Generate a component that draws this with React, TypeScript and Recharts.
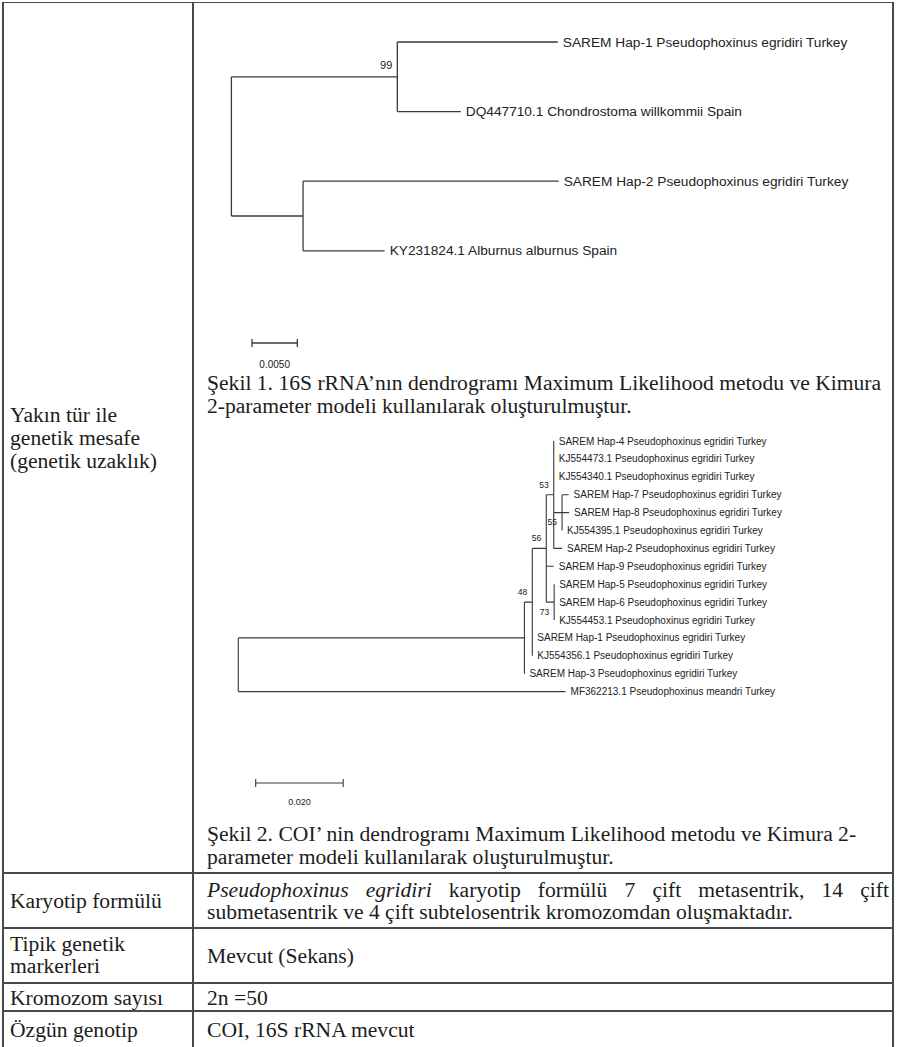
import React from "react";
import { ComposedChart, Line, Scatter, XAxis, YAxis } from "recharts";

// Şekil 1 - 16S rRNA dendrogram (top-to-bottom taxon order)
const taxa16S = [
  "SAREM Hap-1 Pseudophoxinus egridiri Turkey",
  "DQ447710.1 Chondrostoma willkommii Spain",
  "SAREM Hap-2 Pseudophoxinus egridiri Turkey",
  "KY231824.1 Alburnus alburnus Spain",
];
// [child, parent, branch length]; leaves are "t" + taxon index
const branches16S: [string, string, number][] = [
  ["n1", "root", 0.0183],
  ["t0", "n1", 0.0177],
  ["t1", "n1", 0.007],
  ["n2", "root", 0.0079],
  ["t2", "n2", 0.0282],
  ["t3", "n2", 0.009],
];
const bootstrap16S: Record<string, number> = { n1: 99 };
const scale16S = 0.005;
const scaleLabel16S = "0.0050";

// Şekil 2 - COI dendrogram
const taxaCOI = [
  "SAREM Hap-4 Pseudophoxinus egridiri Turkey",
  "KJ554473.1 Pseudophoxinus egridiri Turkey",
  "KJ554340.1 Pseudophoxinus egridiri Turkey",
  "SAREM Hap-7 Pseudophoxinus egridiri Turkey",
  "SAREM Hap-8 Pseudophoxinus egridiri Turkey",
  "KJ554395.1 Pseudophoxinus egridiri Turkey",
  "SAREM Hap-2 Pseudophoxinus egridiri Turkey",
  "SAREM Hap-9 Pseudophoxinus egridiri Turkey",
  "SAREM Hap-5 Pseudophoxinus egridiri Turkey",
  "SAREM Hap-6 Pseudophoxinus egridiri Turkey",
  "KJ554453.1 Pseudophoxinus egridiri Turkey",
  "SAREM Hap-1 Pseudophoxinus egridiri Turkey",
  "KJ554356.1 Pseudophoxinus egridiri Turkey",
  "SAREM Hap-3 Pseudophoxinus egridiri Turkey",
  "MF362213.1 Pseudophoxinus meandri Turkey",
];
const branchesCOI: [string, string, number][] = [
  ["A", "root", 0.0654],
  ["C", "A", 0.0018],
  ["G", "C", 0.0032],
  ["E", "G", 0.0017],
  ["t0", "E", 0],
  ["t1", "E", 0],
  ["t2", "E", 0],
  ["F", "E", 0.0019],
  ["t3", "F", 0.0015],
  ["t4", "F", 0.0016],
  ["t5", "F", 0],
  ["t6", "E", 0.0019],
  ["t7", "G", 0.0017],
  ["H", "G", 0.0018],
  ["t8", "H", 0],
  ["t9", "H", 0],
  ["t10", "H", 0],
  ["t11", "C", 0],
  ["t12", "C", 0],
  ["t13", "A", 0],
  ["t14", "root", 0.0748],
];
const bootstrapCOI: Record<string, number> = { E: 53, F: 55, G: 56, H: 73, C: 48 };
const bootBelowCOI = ["F", "H"];
const scaleCOI = 0.02;
const scaleLabelCOI = "0.020";

const INK = "#222";
const LINE = "#3a3a3a";
const SERIF = "'Liberation Serif', 'Times New Roman', serif";
const SANS = "'Liberation Sans', Arial, sans-serif";

type Pt = { x: number; y: number | null };

function layoutTree(branches: [string, string, number][]) {
  const kids: Record<string, { id: string; len: number }[]> = {};
  branches.forEach(([c, p, l]) => {
    (kids[p] = kids[p] || []).push({ id: c, len: l });
  });
  const pos: Record<string, { x: number; y: number }> = {};
  const walk = (id: string, x: number) => {
    const k = kids[id];
    if (!k) {
      pos[id] = { x, y: Number(id.slice(1)) };
      return;
    }
    k.forEach((c) => walk(c.id, x + c.len));
    pos[id] = { x, y: (pos[k[0].id].y + pos[k[k.length - 1].id].y) / 2 };
  };
  walk("root", 0);

  const lines: Pt[] = [];
  const seg = (a: Pt, b: Pt) => lines.push(a, b, { x: b.x, y: null });
  branches.forEach(([c, p]) => seg({ x: pos[p].x, y: pos[c].y }, { x: pos[c].x, y: pos[c].y }));
  Object.keys(kids).forEach((id) => {
    const k = kids[id];
    seg({ x: pos[id].x, y: pos[k[0].id].y }, { x: pos[id].x, y: pos[k[k.length - 1].id].y });
  });
  return { pos, lines };
}

type TreeProps = {
  taxa: string[];
  branches: [string, string, number][];
  bootstrap: Record<string, number>;
  below?: string[];
  scaleLen: number;
  scaleLabel: string;
  left: number;
  top: number;
  width: number;
  height: number;
  rootX: number;
  pxPerUnit: number;
  row0: number;
  rowPx: number;
  barX: number;
  barY: number;
  barLabelDy: number;
  bootAbove: number;
  bootBelow: number;
  leafFont: number;
  bootFont: number;
  scaleFont: number;
  stroke: number;
};

function Dendrogram(p: TreeProps) {
  const { pos, lines } = layoutTree(p.branches);
  const xMin = (p.left - p.rootX) / p.pxPerUnit;
  const xMax = (p.left + p.width - p.rootX) / p.pxPerUnit;
  const yMin = (p.top - p.row0) / p.rowPx;
  const yMax = (p.top + p.height - p.row0) / p.rowPx;

  const leaves = p.taxa.map((name, i) => ({ x: pos["t" + i].x, y: pos["t" + i].y, name }));
  const boots = Object.keys(p.bootstrap).map((id) => ({
    x: pos[id].x,
    y: pos[id].y,
    value: p.bootstrap[id],
    below: (p.below || []).includes(id),
  }));

  const bx = (p.barX - p.rootX) / p.pxPerUnit;
  const by = (p.barY - p.row0) / p.rowPx;
  const tick = 4 / p.rowPx;
  const bar: Pt[] = [
    { x: bx, y: by },
    { x: bx + p.scaleLen, y: by },
    { x: bx + p.scaleLen, y: null },
    { x: bx, y: by - tick },
    { x: bx, y: by + tick },
    { x: bx, y: null },
    { x: bx + p.scaleLen, y: by - tick },
    { x: bx + p.scaleLen, y: by + tick },
  ];
  const barMid = [{ x: bx + p.scaleLen / 2, y: by }];

  return (
    <div style={{ position: "absolute", left: p.left, top: p.top }}>
      <ComposedChart width={p.width} height={p.height} margin={{ top: 0, right: 0, bottom: 0, left: 0 }}>
        <XAxis type="number" dataKey="x" domain={[xMin, xMax]} hide allowDataOverflow />
        <YAxis type="number" dataKey="y" domain={[yMin, yMax]} reversed hide allowDataOverflow />
        <Line
          data={lines}
          dataKey="y"
          stroke={LINE}
          strokeWidth={p.stroke}
          dot={false}
          activeDot={false}
          connectNulls={false}
          isAnimationActive={false}
        />
        <Line
          data={bar}
          dataKey="y"
          stroke={LINE}
          strokeWidth={p.stroke}
          dot={false}
          activeDot={false}
          connectNulls={false}
          isAnimationActive={false}
        />
        <Scatter
          data={leaves}
          isAnimationActive={false}
          shape={(s: any) => (
            <text x={s.cx + 5} y={s.cy} dominantBaseline="central" fontSize={p.leafFont} fontFamily={SANS} fill={INK}>
              {s.payload.name}
            </text>
          )}
        />
        <Scatter
          data={boots}
          isAnimationActive={false}
          shape={(s: any) => (
            <text
              x={s.cx - 5}
              y={s.payload.below ? s.cy + p.bootBelow : s.cy - p.bootAbove}
              textAnchor="end"
              dominantBaseline="central"
              fontSize={p.bootFont}
              fontFamily={SANS}
              fill={INK}
            >
              {s.payload.value}
            </text>
          )}
        />
        <Scatter
          data={barMid}
          isAnimationActive={false}
          shape={(s: any) => (
            <text
              x={s.cx}
              y={s.cy + p.barLabelDy}
              textAnchor="middle"
              dominantBaseline="central"
              fontSize={p.scaleFont}
              fontFamily={SANS}
              fill={INK}
            >
              {p.scaleLabel}
            </text>
          )}
        />
      </ComposedChart>
    </div>
  );
}

function Txt({ x, y, children, size = 21.6, italic = false, width }: any) {
  const lh = 24;
  return (
    <div
      style={{
        position: "absolute",
        left: x,
        top: y - lh / 2,
        lineHeight: lh + "px",
        fontSize: size,
        fontFamily: SERIF,
        color: "#1c1c1c",
        whiteSpace: "nowrap",
        fontStyle: italic ? "italic" : "normal",
        width,
        textAlign: width ? "justify" : "left",
        textAlignLast: width ? "justify" : "auto",
      }}
    >
      {children}
    </div>
  );
}

function HLine({ y }: { y: number }) {
  return <div style={{ position: "absolute", left: 3, top: y - 0.75, width: 891, height: 1.5, background: "#4a4a4a" }} />;
}
function VLine({ x }: { x: number }) {
  return <div style={{ position: "absolute", left: x - 0.75, top: 2, width: 1.5, height: 1046, background: "#4a4a4a" }} />;
}

export default function App() {
  const RX = 207;
  return (
    <div style={{ position: "absolute", left: 0, top: 0, width: 903, height: 1047, background: "#fff", overflow: "hidden" }}>
      <HLine y={2.5} />
      <HLine y={873} />
      <HLine y={928} />
      <HLine y={983} />
      <HLine y={1011} />
      <VLine x={3} />
      <VLine x={193} />
      <VLine x={893} />

      <Dendrogram
        taxa={taxa16S}
        branches={branches16S}
        bootstrap={bootstrap16S}
        scaleLen={scale16S}
        scaleLabel={scaleLabel16S}
        left={194}
        top={4}
        width={698}
        height={370}
        rootX={231.4}
        pxPerUnit={9067}
        row0={42}
        rowPx={69.6}
        barX={252}
        barY={343}
        barLabelDy={21}
        bootAbove={12}
        bootBelow={12}
        leafFont={13.7}
        bootFont={11}
        scaleFont={10}
        stroke={1.3}
      />
      <Dendrogram
        taxa={taxaCOI}
        branches={branchesCOI}
        bootstrap={bootstrapCOI}
        below={bootBelowCOI}
        scaleLen={scaleCOI}
        scaleLabel={scaleLabelCOI}
        left={194}
        top={420}
        width={698}
        height={405}
        rootX={238.3}
        pxPerUnit={4375}
        row0={441}
        rowPx={17.9}
        barX={255.7}
        barY={783}
        barLabelDy={19}
        bootAbove={10}
        bootBelow={9.5}
        leafFont={10}
        bootFont={8.5}
        scaleFont={9}
        stroke={1.1}
      />

      <Txt x={RX} y={383}>Şekil 1. 16S rRNA’nın dendrogramı Maximum Likelihood metodu ve Kimura</Txt>
      <Txt x={RX} y={406}>2-parameter modeli kullanılarak oluşturulmuştur.</Txt>

      <Txt x={10} y={415}>Yakın tür ile</Txt>
      <Txt x={10} y={438}>genetik mesafe</Txt>
      <Txt x={10} y={461}>(genetik uzaklık)</Txt>

      <Txt x={RX} y={834}>Şekil 2. COI’ nin dendrogramı Maximum Likelihood metodu ve Kimura 2-</Txt>
      <Txt x={RX} y={857}>parameter modeli kullanılarak oluşturulmuştur.</Txt>

      <Txt x={10} y={901}>Karyotip formülü</Txt>
      <Txt x={RX} y={890} width={682}>
        <i>Pseudophoxinus egridiri</i> karyotip formülü 7 çift metasentrik, 14 çift
      </Txt>
      <Txt x={RX} y={912}>submetasentrik ve 4 çift subtelosentrik kromozomdan oluşmaktadır.</Txt>

      <Txt x={10} y={944}>Tipik genetik</Txt>
      <Txt x={10} y={966}>markerleri</Txt>
      <Txt x={RX} y={956}>Mevcut (Sekans)</Txt>

      <Txt x={10} y={998}>Kromozom sayısı</Txt>
      <Txt x={RX} y={998}>2n =50</Txt>

      <Txt x={10} y={1030}>Özgün genotip</Txt>
      <Txt x={RX} y={1030}>COI, 16S rRNA mevcut</Txt>
    </div>
  );
}
